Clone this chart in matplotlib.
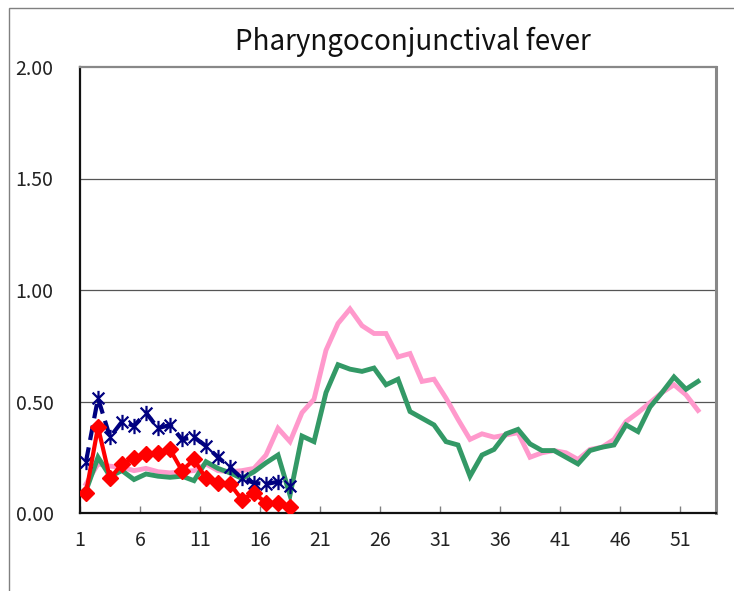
import numpy as np
import matplotlib as mpl
mpl.use('Agg')
import matplotlib.pyplot as plt
from matplotlib.path import Path
from matplotlib.patches import Rectangle

plt.rcParams['font.family'] = ['Noto Sans CJK JP', 'DejaVu Sans']

title = 'Pharyngoconjunctival fever'

# weekly values per series
weeks_all = np.arange(1, 53)
pink_vals = [0.13, 0.22, 0.21, 0.205, 0.19, 0.20, 0.185, 0.18, 0.185, 0.19,
             0.22, 0.19, 0.185, 0.19, 0.20, 0.26, 0.38, 0.32, 0.45, 0.51,
             0.73, 0.85, 0.915, 0.84, 0.805, 0.805, 0.70, 0.715, 0.59, 0.60,
             0.515, 0.42, 0.33, 0.355, 0.34, 0.35, 0.36, 0.25, 0.27, 0.28,
             0.27, 0.24, 0.285, 0.295, 0.33, 0.41, 0.45, 0.495, 0.54, 0.575,
             0.53, 0.46]
green_vals = [0.10, 0.25, 0.165, 0.19, 0.15, 0.175, 0.165, 0.16, 0.165, 0.145,
              0.23, 0.20, 0.18, 0.155, 0.185, 0.225, 0.26, 0.08, 0.345, 0.32,
              0.54, 0.665, 0.645, 0.635, 0.65, 0.575, 0.60, 0.455, 0.425, 0.395,
              0.32, 0.305, 0.165, 0.26, 0.285, 0.355, 0.375, 0.31, 0.28, 0.28,
              0.25, 0.22, 0.28, 0.295, 0.305, 0.395, 0.365, 0.475, 0.54, 0.61,
              0.555, 0.59]
weeks_cur = np.arange(1, 19)
navy_vals = [0.23, 0.515, 0.34, 0.41, 0.39, 0.45, 0.38, 0.395, 0.33, 0.34,
             0.30, 0.25, 0.205, 0.155, 0.135, 0.13, 0.14, 0.12]
red_vals = [0.09, 0.385, 0.155, 0.22, 0.245, 0.265, 0.27, 0.285, 0.19, 0.24,
            0.155, 0.135, 0.13, 0.06, 0.09, 0.045, 0.045, 0.028]

xtick_labels = [str(w) for w in range(1, 52, 5)]
ytick_vals = [0.0, 0.5, 1.0, 1.5, 2.0]

# Excel-like star marker: an x with a vertical bar
star = Path([(-1, -1), (1, 1), (-1, 1), (1, -1), (0, -1.3), (0, 1.3)],
            [Path.MOVETO, Path.LINETO, Path.MOVETO, Path.LINETO,
             Path.MOVETO, Path.LINETO])

fig = plt.figure(figsize=(7.34, 5.91), dpi=100)
ax = fig.add_axes([80/734, 1 - 513/591, 636/734, 446/591])

ax.plot(weeks_all, pink_vals, color='#FF99CC', lw=3.5, solid_joinstyle='miter', zorder=3)
ax.plot(weeks_all, green_vals, color='#339966', lw=3.5, solid_joinstyle='miter', zorder=4)
ax.plot(weeks_cur, navy_vals, color='#000080', lw=3, ls=(0, (3.5, 1.8)),
        marker=star, ms=11, mew=1.6, mec='#000080', zorder=5)
ax.plot(weeks_cur, red_vals, color='#FF0000', lw=3, marker='D', ms=8.5,
        mfc='#FF0000', mec='#FF0000', zorder=6)

ax.set_xlim(0.5, 53.5)
ax.set_ylim(0, 2)
ax.set_xticks(np.arange(0.5, 51, 5))
ax.set_xticklabels(xtick_labels)
ax.set_yticks(ytick_vals)
ax.set_yticklabels(['%.2f' % v for v in ytick_vals])
ax.tick_params(axis='x', direction='in', length=5, width=1, color='#808080',
               labelsize=14, pad=12, labelcolor='#222222')
ax.tick_params(axis='y', length=0, labelsize=14, pad=19, labelcolor='#222222')
for y in [0.5, 1.0, 1.5]:
    ax.axhline(y, color='#555555', lw=0.9, zorder=1)

ax.spines['left'].set_color('#111111')
ax.spines['left'].set_linewidth(1.6)
ax.spines['bottom'].set_color('#111111')
ax.spines['bottom'].set_linewidth(1.6)
ax.spines['top'].set_color('#888888')
ax.spines['top'].set_linewidth(1.6)
ax.spines['right'].set_color('#888888')
ax.spines['right'].set_linewidth(2.2)

fig.text(413/734, 1 - 50/591, title, ha='center', va='baseline', fontsize=20,
         color='#111111')

# outer chart frame (right and bottom edges fall off the canvas)
fig.add_artist(Rectangle((9/734, -0.1), 1.2, (591 - 8)/591 + 0.1,
                         transform=fig.transFigure, fill=False,
                         ec='#808080', lw=1))

fig.savefig('out.png', dpi=100)
plt.close(fig)
